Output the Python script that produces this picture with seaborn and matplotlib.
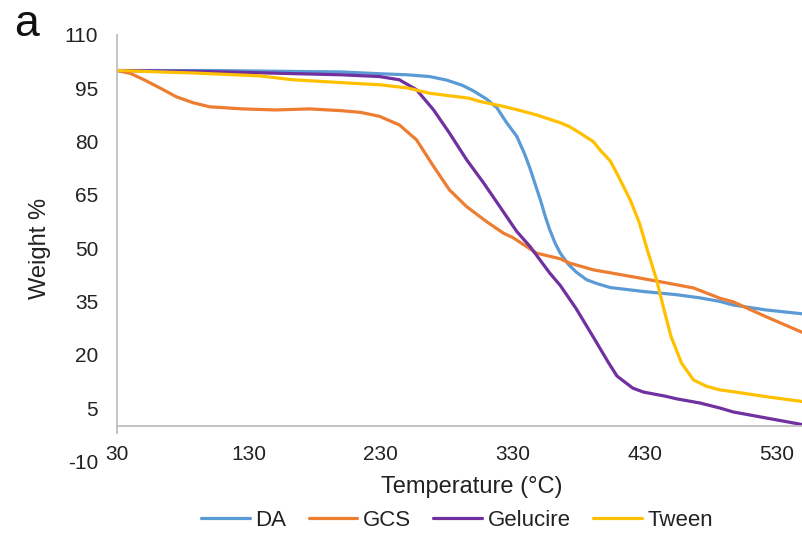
import matplotlib
matplotlib.use("Agg")
import matplotlib.pyplot as plt
import seaborn as sns
import pandas as pd

# ---- data ----
da_t = [30, 100, 200, 229, 250, 267, 280, 292, 300, 310, 318, 325, 333, 339, 343, 347, 351, 355, 358, 362,
        366, 372, 378, 386, 394, 404, 411, 429, 454, 472, 487, 497, 522, 550]
da_w = [100, 100, 99.6, 99.1, 98.8, 98.3, 97.3, 95.8, 94.3, 92.0, 89.5, 85.5, 81.5, 76.5, 72.5, 68.0, 63.5,
        58.5, 55.2, 51.5, 48.6, 45.5, 43.3, 41.1, 40.0, 38.9, 38.6, 37.8, 36.9, 36.0, 35.0, 34.0, 32.6, 31.5]

gcs_t = [30, 40, 50, 63, 75, 88, 100, 125, 150, 176, 200, 215, 229, 244, 257, 270, 282, 295, 310, 323, 330,
         348, 366, 373, 391, 411, 441, 467, 487, 497, 522, 550]
gcs_w = [100, 99.2, 97.5, 95.0, 92.6, 90.9, 89.8, 89.2, 88.9, 89.2, 88.7, 88.2, 87.1, 84.7, 80.5, 73.0, 66.4,
         61.7, 57.5, 54.2, 53.0, 48.6, 47.0, 45.8, 43.9, 42.6, 40.6, 38.8, 35.9, 34.9, 30.7, 26.2]

gel_t = [30, 100, 200, 229, 244, 257, 270, 282, 295, 308, 320, 333, 343, 358, 366, 378, 391, 403, 409, 416,
         421, 429, 446, 454, 472, 487, 497, 522, 550]
gel_w = [100, 99.7, 98.8, 98.3, 97.4, 94.6, 88.9, 82.4, 74.9, 68.3, 61.8, 54.7, 50.5, 43.0, 39.5, 33.0, 25.0,
         17.5, 14.0, 12.0, 10.6, 9.5, 8.3, 7.6, 6.4, 5.0, 3.9, 2.2, 0.3]

tw_t = [30, 88, 138, 163, 214, 229, 250, 267, 297, 305, 323, 335, 348, 366, 373, 381, 391, 396, 404, 409,
        419, 426, 432, 439, 444, 450, 458, 467, 477, 487, 497, 522, 550]
tw_w = [100, 99.3, 98.5, 97.4, 96.3, 96.0, 95.1, 93.6, 92.2, 91.3, 89.9, 88.8, 87.5, 85.3, 84.2, 82.4, 80.0,
        77.7, 74.5, 71.0, 63.6, 57.1, 49.5, 41.1, 33.6, 25.1, 17.6, 12.9, 11.1, 10.1, 9.6, 8.2, 6.8]

series_names = ["DA", "GCS", "Gelucire", "Tween"]
colors = ["#5B9BD5", "#ED7D31", "#7030A0", "#FFC000"]
y_ticks = [-10, 5, 20, 35, 50, 65, 80, 95, 110]
x_ticks = [30, 130, 230, 330, 430, 530]

frames = []
for name, t, w in zip(series_names, [da_t, gcs_t, gel_t, tw_t], [da_w, gcs_w, gel_w, tw_w]):
    frames.append(pd.DataFrame({"Temperature": t, "Weight": w, "Sample": name}))
df = pd.concat(frames, ignore_index=True)

sns.set_style("white")
plt.rcParams["font.family"] = ["Liberation Sans", "DejaVu Sans"]

fig = plt.figure(figsize=(8.03, 5.33), dpi=100)
W, H = 803, 533
ax = fig.add_axes([117 / W, 1 - 461.3 / H, 1 - 117 / W, (461.3 - 35) / H])

sns.lineplot(data=df, x="Temperature", y="Weight", hue="Sample",
             hue_order=series_names, palette=colors, linewidth=2.3,
             sort=False, estimator=None, ax=ax, legend=False)
for line in ax.get_lines():
    line.set_solid_joinstyle("round")
    line.set_solid_capstyle("round")

ax.set_xlim(30, 550)
ax.set_ylim(-10, 110)
ax.set_yticks(y_ticks)
ax.set_xticks(x_ticks)
ax.set_yticklabels([str(v) for v in y_ticks])
ax.set_xticklabels([str(v) for v in x_ticks])

for s in ["top", "right"]:
    ax.spines[s].set_visible(False)
ax.spines["bottom"].set_position(("data", 0))
ax.spines["bottom"].set_color("#BFBFBF")
ax.spines["bottom"].set_linewidth(1.3)
ax.spines["left"].set_color("#BFBFBF")
ax.spines["left"].set_linewidth(1.3)
ax.spines["left"].set_bounds(-2, 110)

ax.tick_params(axis="y", length=0, pad=13.5, labelsize=15, labelcolor="#222222")
ax.tick_params(axis="x", length=0, pad=13.5, labelsize=15, labelcolor="#222222")
ax.set_xlabel("")
ax.set_ylabel("")

fig.text(472 / W, 1 - 487 / H, "Temperature (°C)", ha="center", va="center",
         fontsize=17, color="#222222")
fig.text(40 / W, 1 - 248 / H, "Weight %", ha="center", va="center",
         rotation=90, fontsize=17, color="#222222")
fig.text(14 / W, 1 - 25 / H, "a", ha="left", va="center", fontsize=32, color="#111111")

handles = [plt.Line2D([0], [0], color=c, lw=2.3) for c in colors]
fig.legend(handles, series_names, loc="center", bbox_to_anchor=(457 / W, 1 - 520 / H),
           ncol=4, frameon=False, fontsize=16, handlelength=2.2, handletextpad=0.25,
           columnspacing=1.0, labelcolor="#222222")

fig.savefig("out.png", dpi=100)
